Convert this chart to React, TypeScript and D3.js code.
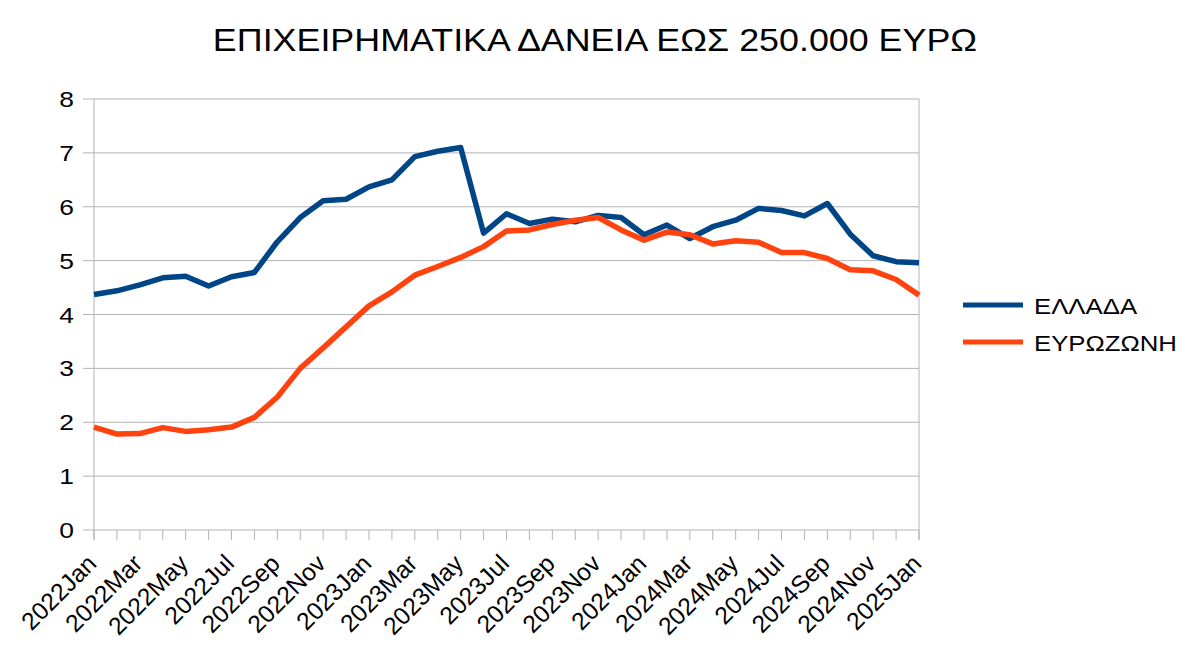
import React from "react";
import * as d3 from "d3";

const months = [
  "2022Jan","2022Feb","2022Mar","2022Apr","2022May","2022Jun","2022Jul","2022Aug","2022Sep","2022Oct","2022Nov","2022Dec",
  "2023Jan","2023Feb","2023Mar","2023Apr","2023May","2023Jun","2023Jul","2023Aug","2023Sep","2023Oct","2023Nov","2023Dec",
  "2024Jan","2024Feb","2024Mar","2024Apr","2024May","2024Jun","2024Jul","2024Aug","2024Sep","2024Oct","2024Nov","2024Dec",
  "2025Jan",
];

const greece = [
  4.37, 4.44, 4.55, 4.68, 4.71, 4.53, 4.70, 4.78, 5.35, 5.80, 6.11, 6.14,
  6.37, 6.50, 6.93, 7.03, 7.10, 5.51, 5.87, 5.69, 5.77, 5.72, 5.84, 5.80,
  5.48, 5.66, 5.41, 5.63, 5.75, 5.97, 5.93, 5.83, 6.06, 5.49, 5.09, 4.98,
  4.96,
];

const eurozone = [
  1.91, 1.78, 1.79, 1.90, 1.83, 1.86, 1.91, 2.09, 2.47, 3.00, 3.38, 3.77,
  4.16, 4.42, 4.73, 4.89, 5.06, 5.26, 5.55, 5.57, 5.67, 5.75, 5.80, 5.57,
  5.38, 5.53, 5.48, 5.31, 5.37, 5.34, 5.15, 5.15, 5.04, 4.83, 4.81, 4.65,
  4.36,
];

const yTicks = [0, 1, 2, 3, 4, 5, 6, 7, 8];
const seriesNames = ["ΕΛΛΑΔΑ", "ΕΥΡΩΖΩΝΗ"];
const seriesColors = ["#004586", "#ff420e"];
const title = "ΕΠΙΧΕΙΡΗΜΑΤΙΚΑ ΔΑΝΕΙΑ ΕΩΣ 250.000 ΕΥΡΩ";

export default function App() {
  const W = 1200, H = 647;
  const left = 94, right = 919, top = 99, bottom = 530;
  const sx = 1.12;
  const x = d3.scalePoint<string>().domain(months).range([left, right]);
  const y = d3.scaleLinear().domain([0, 8]).range([bottom, top]);
  const line = d3
    .line<number>()
    .x((_, i) => x(months[i]) as number)
    .y((d) => y(d));
  const font = "'Liberation Sans', Arial, sans-serif";
  const data = [greece, eurozone];
  const labelMonths = months.filter((_, i) => i % 2 === 0);

  return (
    <svg
      width={W}
      height={H}
      style={{ position: "absolute", left: 0, top: 0, background: "#fff" }}
      fontFamily={font}
    >
      <rect x={0} y={0} width={W} height={H} fill="#fff" />
      <text
        transform={`translate(595,51) scale(${sx},1)`}
        textAnchor="middle"
        fontSize={32}
        fill="#000"
      >
        {title}
      </text>
      {yTicks.map((t) => (
        <g key={t}>
          <line x1={83} x2={right} y1={y(t)} y2={y(t)} stroke="#b3b3b3" strokeWidth={1} />
          <text
            transform={`translate(74,${y(t) + 8}) scale(${sx + 0.08},1)`}
            textAnchor="end"
            fontSize={22}
            fill="#000"
          >
            {t}
          </text>
        </g>
      ))}
      <line x1={left} x2={left} y1={top} y2={bottom + 10} stroke="#b3b3b3" />
      <line x1={right} x2={right} y1={top} y2={bottom + 10} stroke="#b3b3b3" />
      {months.map((m) => (
        <line
          key={m}
          x1={x(m) as number}
          x2={x(m) as number}
          y1={bottom}
          y2={bottom + 10}
          stroke="#b3b3b3"
        />
      ))}
      {labelMonths.map((m) => (
        <text
          key={m}
          transform={`translate(${(x(m) as number) + 4},${565}) rotate(-45)`}
          textAnchor="end"
          fontSize={24.5}
          fill="#000"
        >
          {m}
        </text>
      ))}
      {data.map((d, i) => (
        <path
          key={i}
          d={line(d) || ""}
          fill="none"
          stroke={seriesColors[i]}
          strokeWidth={5.5}
          strokeLinejoin="round"
          strokeLinecap="butt"
        />
      ))}
      {seriesNames.map((n, i) => (
        <g key={n} transform={`translate(963,${305 + i * 37})`}>
          <line x1={0} x2={60} y1={0} y2={0} stroke={seriesColors[i]} strokeWidth={5} />
          <text transform={`translate(71,8.5) scale(${sx},1)`} fontSize={23} fill="#000">
            {n}
          </text>
        </g>
      ))}
    </svg>
  );
}
